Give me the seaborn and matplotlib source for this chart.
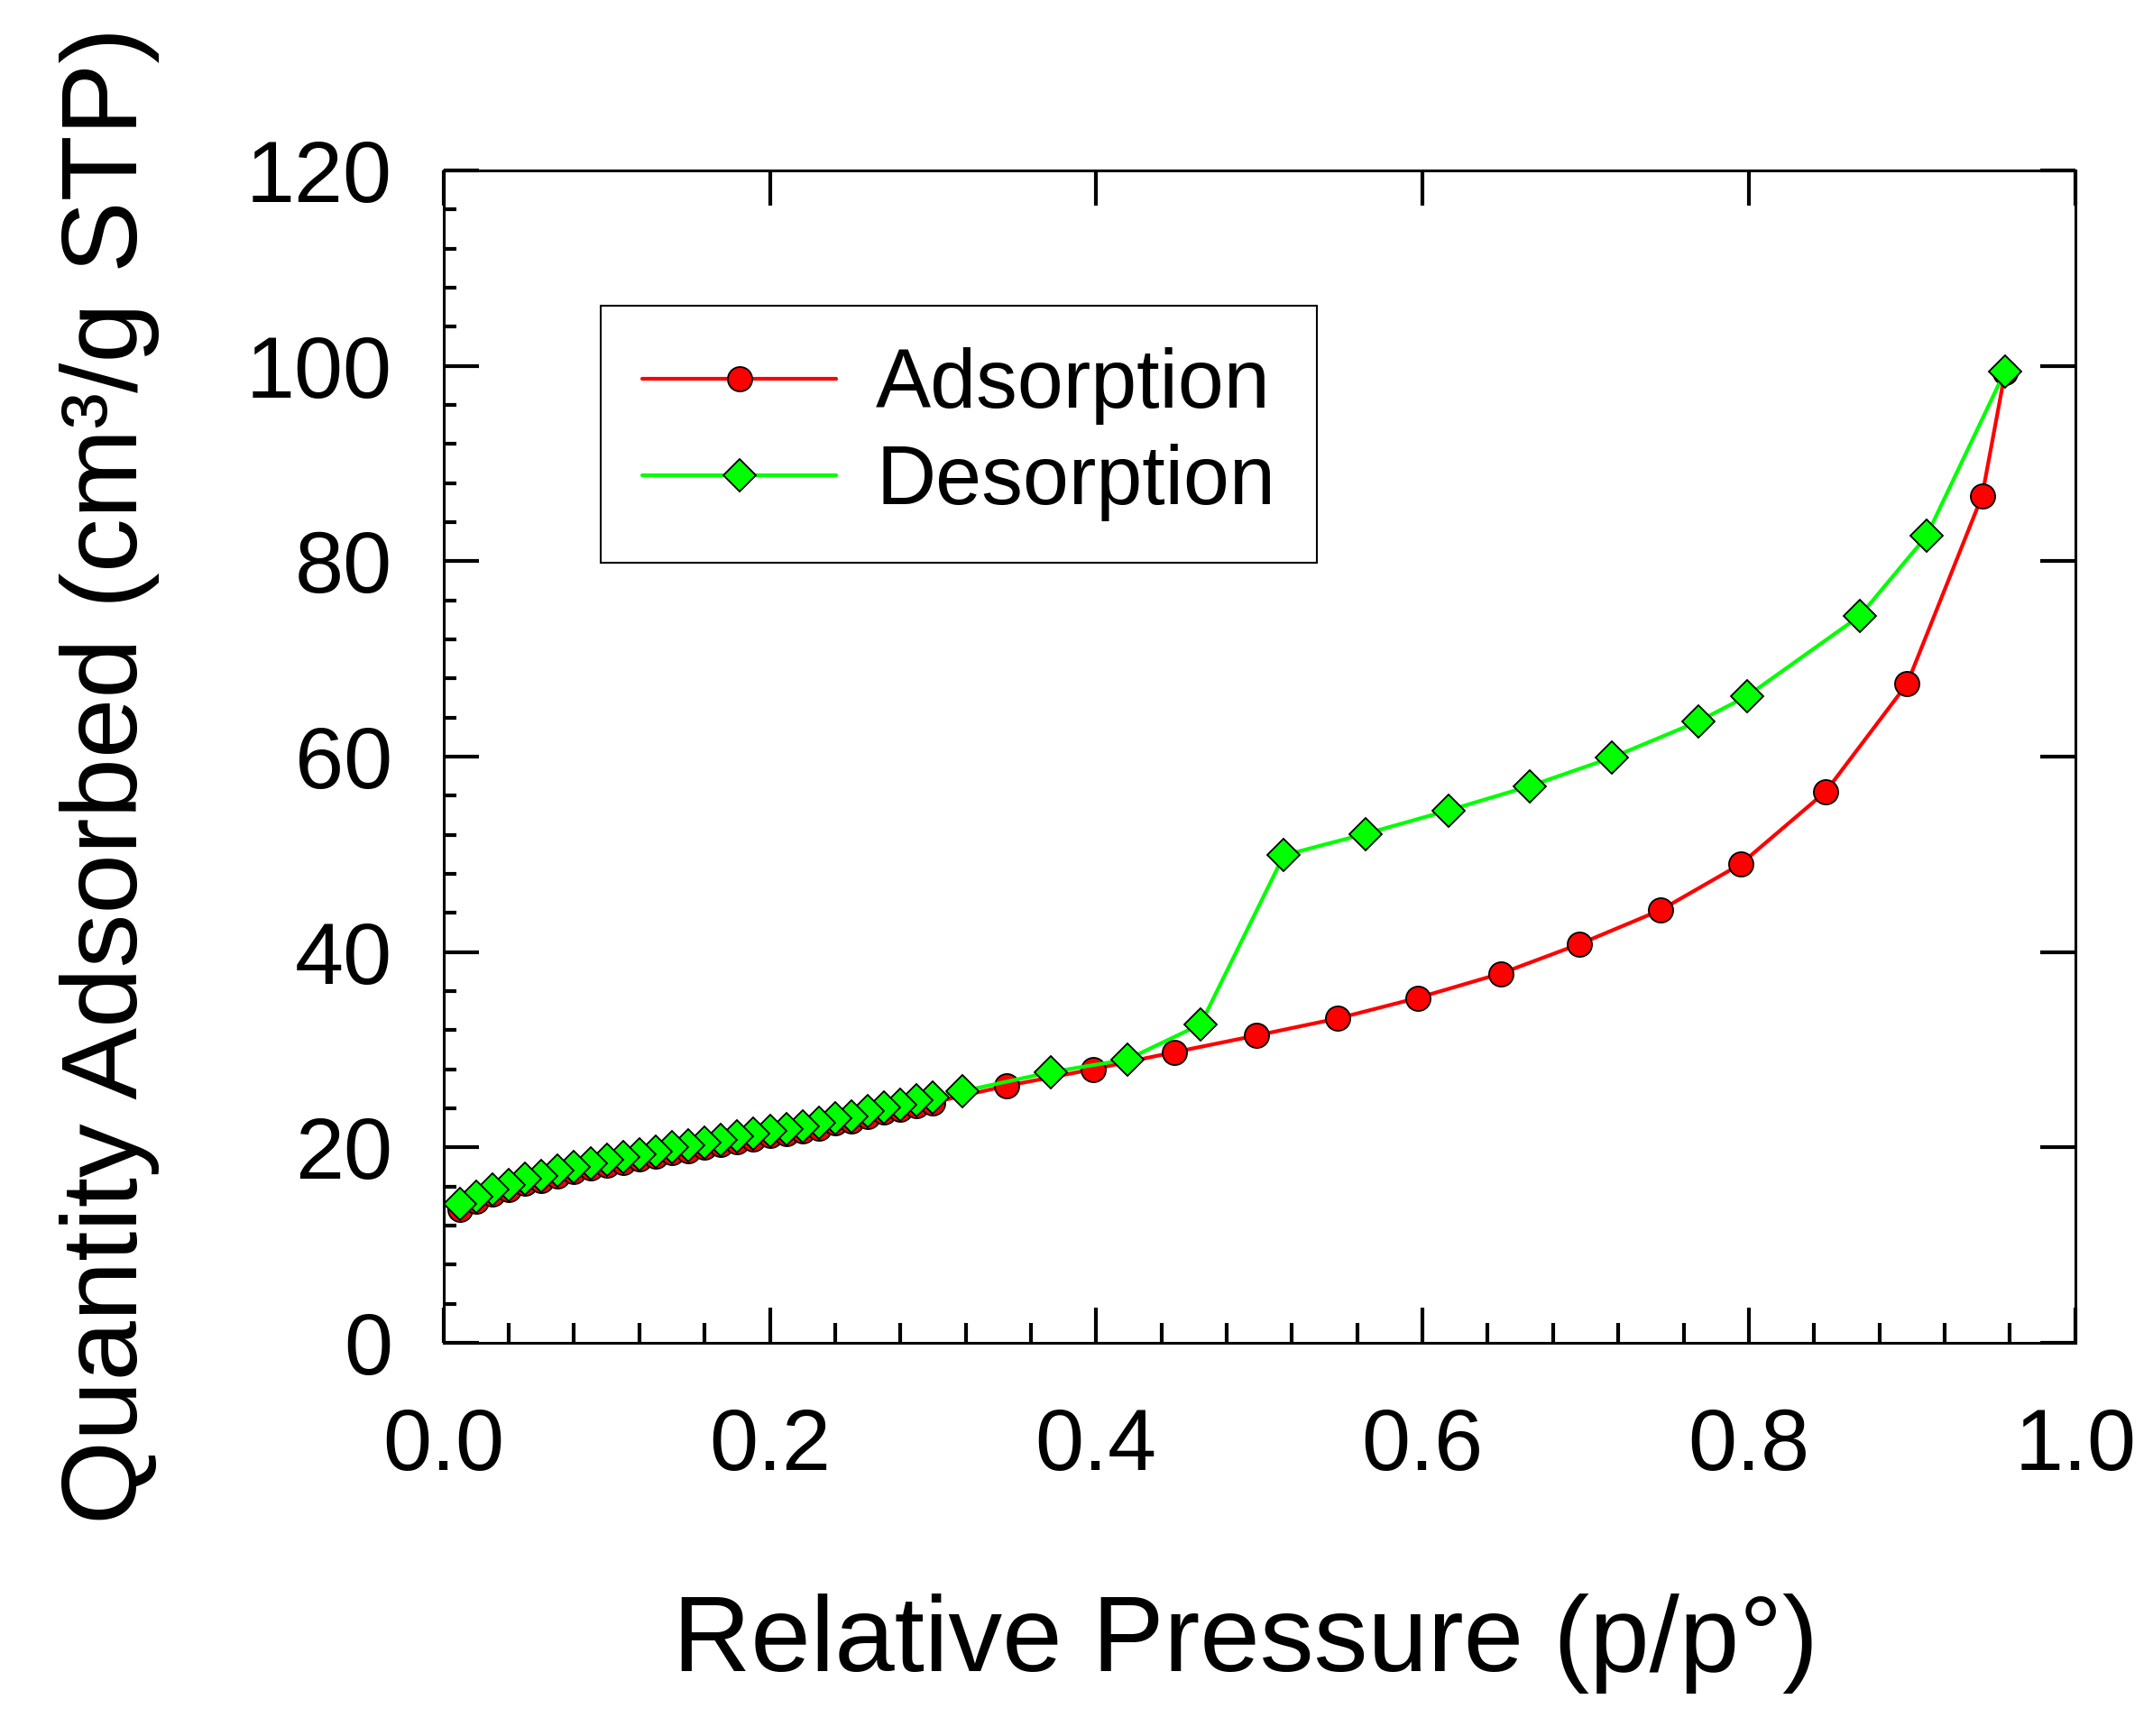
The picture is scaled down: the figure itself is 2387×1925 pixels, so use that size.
import matplotlib
matplotlib.use("Agg")
import matplotlib.pyplot as plt
from matplotlib.ticker import MultipleLocator, FormatStrFormatter, FixedLocator
import seaborn as sns

# ---------------- data ----------------
ads_p = [0.01, 0.02, 0.03, 0.04, 0.05, 0.06, 0.07, 0.08, 0.09, 0.10,
         0.11, 0.12, 0.13, 0.14, 0.15, 0.16, 0.17, 0.18, 0.19, 0.20,
         0.21, 0.22, 0.23, 0.24, 0.25, 0.26, 0.27, 0.28, 0.29, 0.30,
         0.345, 0.398, 0.448, 0.498, 0.548, 0.597, 0.648, 0.696, 0.746,
         0.795, 0.847, 0.897, 0.943, 0.957]
ads_q = [13.7, 14.5, 15.2, 15.7, 16.3, 16.6, 17.1, 17.5, 17.9, 18.2,
         18.5, 18.8, 19.1, 19.5, 19.7, 20.0, 20.3, 20.6, 20.9, 21.2,
         21.4, 21.7, 22.0, 22.5, 22.7, 23.2, 23.6, 23.9, 24.3, 24.6,
         26.3, 28.0, 29.75, 31.45, 33.2, 35.3, 37.8, 40.8, 44.3,
         49.0, 56.4, 67.45, 86.7, 99.3]

des_p = [0.957, 0.909, 0.868, 0.799, 0.769, 0.716, 0.666, 0.616, 0.565,
         0.515, 0.464, 0.419, 0.372, 0.318,
         0.30, 0.29, 0.28, 0.27, 0.26, 0.25, 0.24, 0.23, 0.22, 0.21,
         0.20, 0.19, 0.18, 0.17, 0.16, 0.15, 0.14, 0.13, 0.12, 0.11,
         0.10, 0.09, 0.08, 0.07, 0.06, 0.05, 0.04, 0.03, 0.02, 0.01]
des_q = [99.45, 82.6, 74.4, 66.2, 63.6, 59.9, 57.0, 54.5, 52.1,
         49.9, 32.6, 29.0, 27.7, 25.75,
         25.1, 24.8, 24.4, 24.1, 23.7, 23.2, 23.0, 22.5, 22.2, 21.9,
         21.7, 21.4, 21.1, 20.8, 20.5, 20.2, 20.0, 19.6, 19.3, 19.0,
         18.7, 18.4, 18.0, 17.6, 17.1, 16.8, 16.2, 15.7, 15.0, 14.2]

series_labels = ["Adsorption", "Desorption"]
x_label = "Relative Pressure (p/p\u00b0)"
y_label = "Quantity Adsorbed (cm\u00b3/g STP)"
x_ticks = [0.0, 0.2, 0.4, 0.6, 0.8, 1.0]
y_ticks = [0, 20, 40, 60, 80, 100, 120]

# ---------------- style ----------------
sns.set_style("white")
plt.rcParams["font.family"] = ["Liberation Sans", "DejaVu Sans"]
plt.rcParams["text.color"] = "black"
plt.rcParams["axes.labelcolor"] = "black"
plt.rcParams["xtick.color"] = "black"
plt.rcParams["ytick.color"] = "black"
plt.rcParams["axes.linewidth"] = 2.2

W, H, DPI = 2387, 1925, 100
fig = plt.figure(figsize=(W / DPI, H / DPI), dpi=DPI)
ax_l, ax_r, ax_t, ax_b = 491.7, 2300.7, 189.0, 1489.0
ax = fig.add_axes([ax_l / W, 1 - ax_b / H, (ax_r - ax_l) / W, (ax_b - ax_t) / H])

sns.lineplot(x=ads_p, y=ads_q, ax=ax, color="#ff0000", lw=3.0, marker="o",
             markersize=19.5, markeredgecolor="black", markeredgewidth=1.3,
             sort=False, estimator=None, label=series_labels[0])
sns.lineplot(x=des_p, y=des_q, ax=ax, color="#00ff00", lw=3.0, marker="D",
             markersize=18.5, markeredgecolor="black", markeredgewidth=1.3,
             sort=False, estimator=None, label=series_labels[1])

ax.set_xlim(0, 1.0)
ax.set_ylim(0, 120)
ax.xaxis.set_major_locator(FixedLocator(x_ticks))
ax.yaxis.set_major_locator(FixedLocator(y_ticks))
ax.xaxis.set_minor_locator(MultipleLocator(0.04))
ax.yaxis.set_minor_locator(MultipleLocator(4))
ax.xaxis.set_major_formatter(FormatStrFormatter("%.1f"))
ax.yaxis.set_major_formatter(FormatStrFormatter("%d"))

for s in ax.spines.values():
    s.set_visible(True)
    s.set_color("black")
    s.set_linewidth(2.2)

ax.tick_params(axis="x", which="major", direction="in", length=28, width=3,
               labelsize=70, pad=51, bottom=True, top=True,
               colors="black", labelcolor="black")
ax.tick_params(axis="y", which="major", direction="in", length=28, width=3,
               labelsize=70, pad=41, left=True, right=True,
               colors="black", labelcolor="black")
ax.tick_params(axis="x", which="minor", direction="in", length=16, width=3,
               bottom=True, top=False, colors="black")
ax.tick_params(axis="y", which="minor", direction="in", length=10, width=3,
               left=True, right=False, colors="black")

ax.set_xlabel(x_label, fontsize=86, color="black")
ax.set_ylabel(y_label, fontsize=86, color="black")
ax.xaxis.set_label_coords(0.4915, -0.214)
ax.yaxis.set_label_coords(-0.174, 0.484)

leg = ax.legend(loc="upper left", bbox_to_anchor=(666 / W, 1 - 339 / H),
                bbox_transform=fig.transFigure, borderaxespad=0,
                fontsize=66, frameon=True, fancybox=False, shadow=False,
                framealpha=1, edgecolor="black", borderpad=0.5,
                labelspacing=0.23, handlelength=2.35, handletextpad=0.48,
                numpoints=1)
leg.get_frame().set_linewidth(1.5)
for t in leg.get_texts():
    t.set_color("black")

fig.savefig("out.png", dpi=DPI, facecolor="white")
